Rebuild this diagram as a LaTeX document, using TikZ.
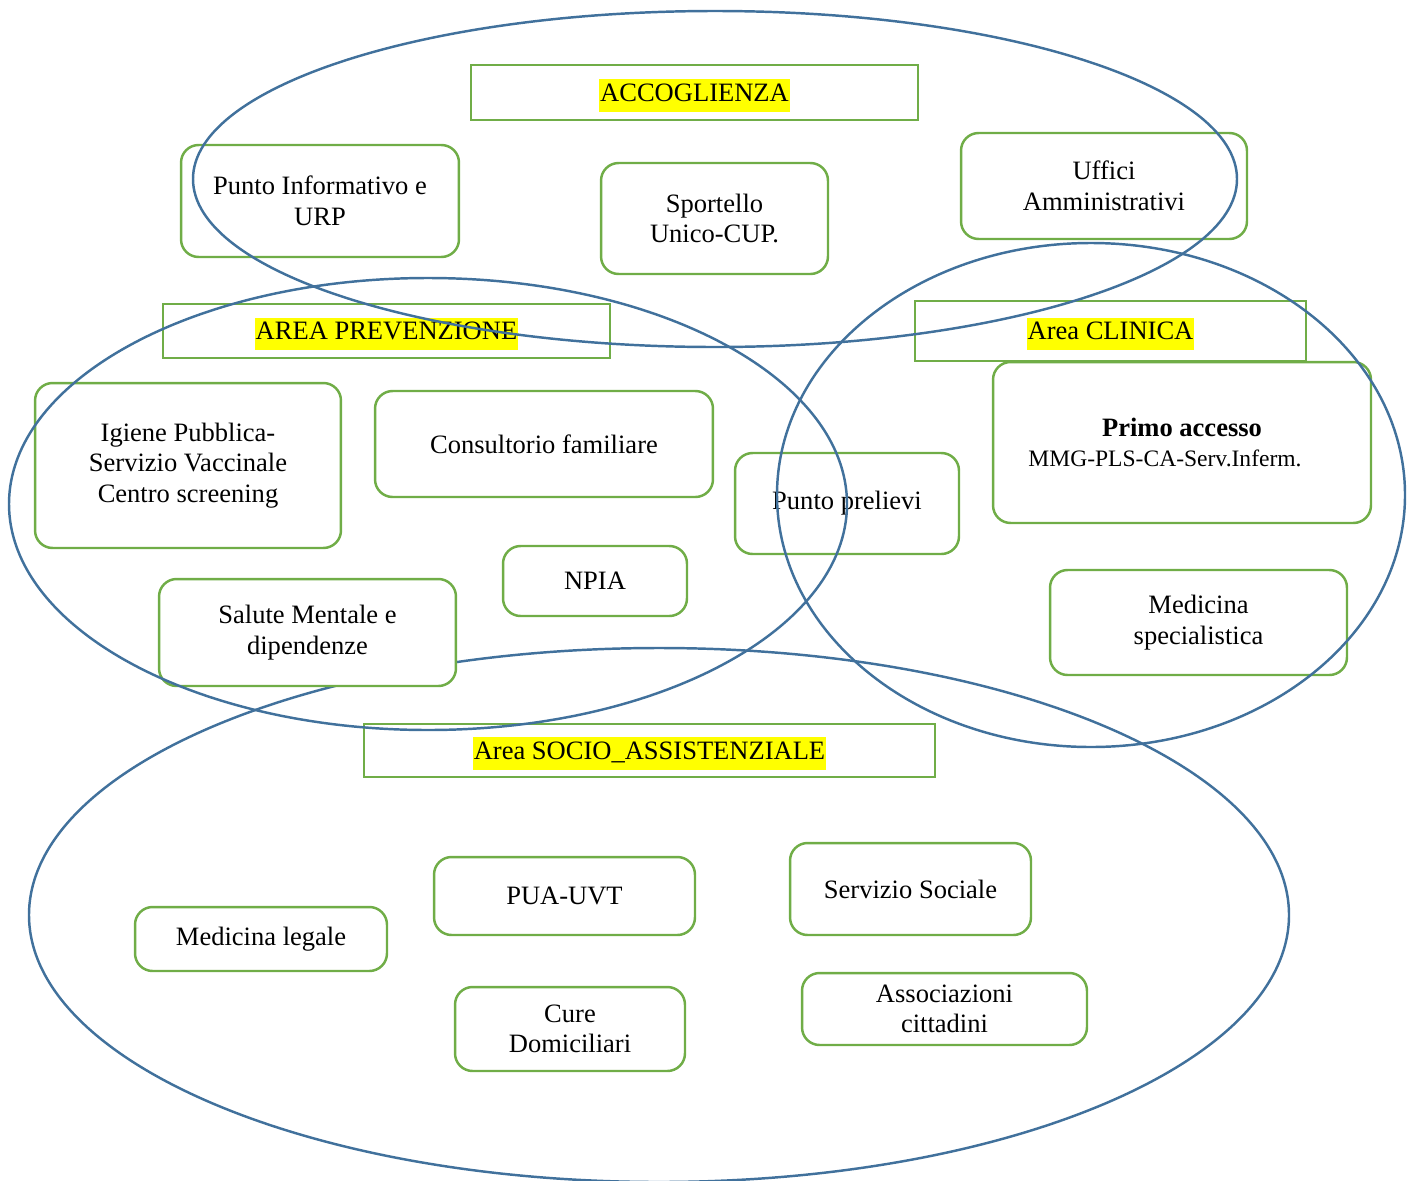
\documentclass[tikz,border=0pt]{standalone}
\usepackage{fontspec}
\setmainfont{Liberation Serif}
\usepackage{xcolor}
\usepackage{tikz}
\usetikzlibrary{shapes, positioning}
\definecolor{boxgreen}{RGB}{112, 173, 71}
\definecolor{ringblue}{RGB}{65, 113, 156}
\definecolor{hlyellow}{RGB}{255, 255, 0}
\newcommand{\hlarea}[1]{{\setlength{\fboxsep}{0.6pt}\colorbox{hlyellow}{\strut #1}}}

\begin{document}
\begin{tikzpicture}[x=0.02cm, y=-0.02cm,
  every node/.style={font=\fontsize{15.1}{17.4}\selectfont, align=center},
  servbox/.style={draw=boxgreen, line width=1.4pt, fill=white, rounded corners=10pt, inner sep=2pt},
  areabox/.style={draw=boxgreen, line width=1.4pt, inner sep=0pt, text height=16pt, text depth=5.8pt},
  zona/.style={draw=ringblue, line width=1.4pt}]
\useasboundingbox (0,0) rectangle (1416,1180);

% Socio-assistenziale ring (behind the boxes)
\draw[zona] (659,915) ellipse [x radius=630, y radius=267];

% Area labels
\node[areabox, minimum width=8.94cm, minimum height=1.1cm] at (694.5,92.5) (accoglienza) {\hlarea{ACCOGLIENZA}};
\node[areabox, minimum width=8.94cm, minimum height=1.08cm] at (386.5,331) (prevenzione) {\hlarea{AREA PREVENZIONE}};
\node[areabox, minimum width=7.82cm, minimum height=1.2cm] at (1110.5,331) (clinica) {\hlarea{Area CLINICA}};
\node[areabox, minimum width=11.42cm, minimum height=1.06cm] at (649.5,750.5) (socio) {\hlarea{Area SOCIO\_ASSISTENZIALE}};

% Accoglienza
\node[servbox, minimum width=5.56cm, minimum height=2.24cm] at (320,201) (info) {Punto Informativo e\\URP};
\node[servbox, minimum width=4.54cm, minimum height=2.22cm] at (714.5,218.5) (sportello) {Sportello\\Unico-CUP.};
\node[servbox, minimum width=5.72cm, minimum height=2.12cm] at (1104,186) (uffici) {Uffici\\Amministrativi};

% Prevenzione
\node[servbox, minimum width=6.12cm, minimum height=3.3cm] at (188,465.5) (igiene) {Igiene Pubblica-\\Servizio Vaccinale\\Centro screening};
\node[servbox, minimum width=6.76cm, minimum height=2.12cm] at (544,444) (consultorio) {Consultorio familiare};
\node[servbox, minimum width=3.68cm, minimum height=1.4cm] at (595,581) (npia) {NPIA};
\node[servbox, minimum width=5.94cm, minimum height=2.14cm] at (307.5,632.5) (salute) {Salute Mentale e\\dipendenze};

% Clinica
\node[servbox, minimum width=4.48cm, minimum height=2.02cm] at (847,503.5) (prelievi) {Punto prelievi};
\node[servbox, minimum width=7.56cm, minimum height=3.22cm] at (1182,442.5) (primo) {\textbf{Primo accesso}\\{\fontsize{13.4}{15}\selectfont MMG-PLS-CA-Serv.Inferm.\hspace*{0.68cm}}};
\node[servbox, minimum width=5.94cm, minimum height=2.1cm] at (1198.5,622.5) (medspec) {Medicina\\specialistica};

% Socio-assistenziale
\node[servbox, minimum width=5.22cm, minimum height=1.56cm] at (564.5,896) (pua) {PUA-UVT};
\node[servbox, minimum width=4.82cm, minimum height=1.84cm] at (910.5,889) (servsoc) {Servizio Sociale};
\node[servbox, minimum width=5.04cm, minimum height=1.28cm] at (261,939) (medleg) {Medicina legale};
\node[servbox, minimum width=4.6cm, minimum height=1.68cm] at (570,1029) (cure) {Cure\\Domiciliari};
\node[servbox, minimum width=5.7cm, minimum height=1.44cm] at (944.5,1009) (assoc) {Associazioni\\cittadini};

% Rings over the boxes
\draw[zona] (715,179) ellipse [x radius=522, y radius=168];
\draw[zona] (428,504) ellipse [x radius=419, y radius=226];
\draw[zona] (1091,495) ellipse [x radius=314, y radius=252];
\end{tikzpicture}
\end{document}
